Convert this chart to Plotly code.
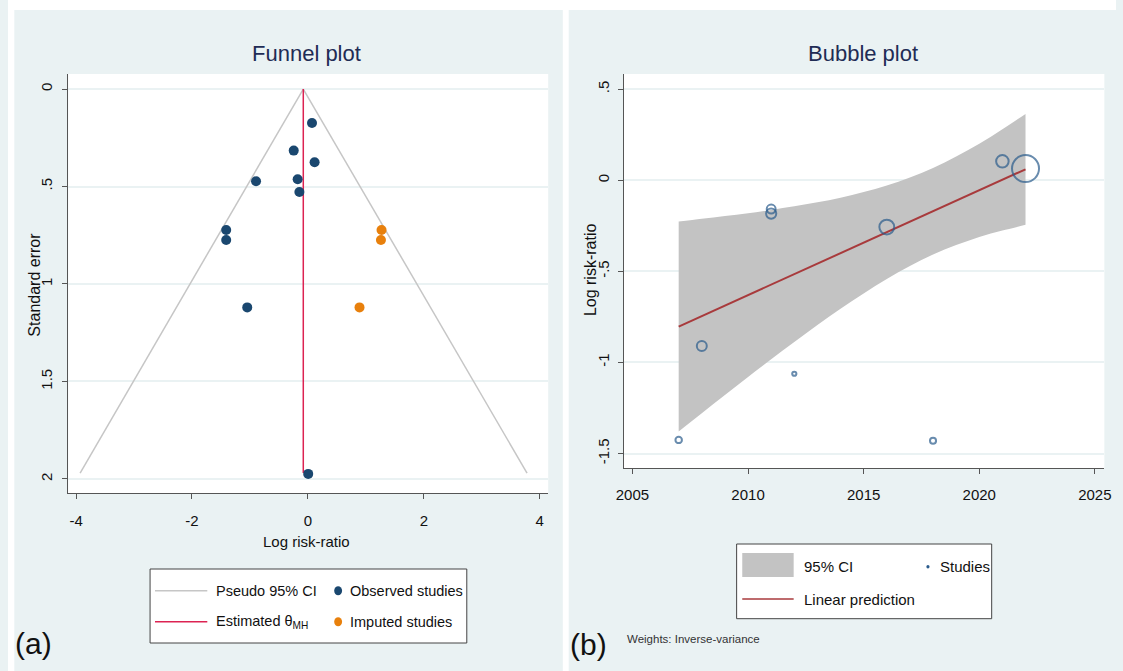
import math
import plotly.graph_objects as go

W, H = 1123, 671

# ---------------- Funnel plot data ----------------
obs_logrr = [0.07, -0.245, 0.115, -0.895, -0.177, -0.147, -1.41, -1.41, -1.047, 0.005]
obs_se = [0.174, 0.316, 0.376, 0.473, 0.463, 0.528, 0.723, 0.774, 1.12, 1.974]
imp_logrr = [1.27, 1.26, 0.89]
imp_se = [0.723, 0.774, 1.12]
theta_mh = -0.08
pseudo_ci_left = [-0.08, -3.93]
pseudo_ci_right = [-0.08, 3.78]
pseudo_ci_se = [0.0, 1.97]
funnel_xticks = [-4, -2, 0, 2, 4]
funnel_xticktext = ["-4", "-2", "0", "2", "4"]
funnel_yticks = [0, 0.5, 1, 1.5, 2]
funnel_yticktext = ["0", ".5", "1", "1.5", "2"]

# ---------------- Bubble plot data ----------------
study_year = [2007, 2008, 2011, 2011, 2012, 2016, 2018, 2021, 2022]
study_logrr = [-1.425, -0.91, -0.158, -0.183, -1.062, -0.257, -1.43, 0.104, 0.064]
study_weight = [1.9, 4.5, 3.6, 4.7, 0.8, 10.0, 1.67, 7.1, 33.0]
pred_year = [2007, 2022]
pred_logrr = [-0.803, 0.06]
ci_year = [2007, 2008, 2009, 2010, 2011, 2012, 2013, 2014, 2015, 2016, 2017, 2018, 2019, 2020, 2021, 2022]
ci_upper = [-0.227, -0.212, -0.197, -0.181, -0.163, -0.143, -0.121, -0.096, -0.065, -0.029, 0.015, 0.067, 0.130, 0.200, 0.280, 0.364]
ci_lower = [-1.379, -1.279, -1.179, -1.080, -0.983, -0.888, -0.795, -0.705, -0.621, -0.542, -0.471, -0.408, -0.356, -0.311, -0.276, -0.245]
bubble_xticks = [2005, 2010, 2015, 2020, 2025]
bubble_yticks = [0.5, 0, -0.5, -1, -1.5]
bubble_yticktext = [".5", "0", "-.5", "-1", "-1.5"]

FONT = "Liberation Sans, Arial, sans-serif"
NAVY = "#1a476f"
ORANGE = "#e8800c"
RED = "#dc2352"
BG = "#eaf2f3"
TITLE_C = "#1f2c55"
BUBBLE_C = "#2a5b8c"


def px(x):
    return x / W


def py(y):
    return 1 - y / H


fig = go.Figure()

# Funnel
fig.add_trace(go.Scatter(x=pseudo_ci_left, y=pseudo_ci_se, mode="lines",
                         line=dict(color="#c6c6c6", width=1.5), xaxis="x", yaxis="y"))
fig.add_trace(go.Scatter(x=pseudo_ci_right, y=pseudo_ci_se, mode="lines",
                         line=dict(color="#c6c6c6", width=1.5), xaxis="x", yaxis="y"))
fig.add_trace(go.Scatter(x=[theta_mh, theta_mh], y=pseudo_ci_se, mode="lines",
                         line=dict(color=RED, width=1.5), xaxis="x", yaxis="y"))
fig.add_trace(go.Scatter(x=obs_logrr, y=obs_se, mode="markers",
                         marker=dict(color=NAVY, size=10), xaxis="x", yaxis="y"))
fig.add_trace(go.Scatter(x=imp_logrr, y=imp_se, mode="markers",
                         marker=dict(color=ORANGE, size=10), xaxis="x", yaxis="y"))

# Bubble
fig.add_trace(go.Scatter(x=ci_year, y=ci_upper, mode="lines", line=dict(width=0, shape="spline"),
                         xaxis="x2", yaxis="y2"))
fig.add_trace(go.Scatter(x=ci_year, y=ci_lower, mode="lines", line=dict(width=0, shape="spline"),
                         fill="tonexty", fillcolor="#c3c3c3", xaxis="x2", yaxis="y2"))
fig.add_trace(go.Scatter(x=pred_year, y=pred_logrr, mode="lines",
                         line=dict(color="#a83a3c", width=2), xaxis="x2", yaxis="y2"))
fig.add_trace(go.Scatter(x=study_year, y=study_logrr, mode="markers",
                         marker=dict(symbol="circle-open", color=BUBBLE_C,
                                     size=[4.7 * math.sqrt(w) for w in study_weight],
                                     line=dict(width=2)),
                         xaxis="x2", yaxis="y2"))

axis_common = dict(showline=True, linecolor="#555", linewidth=1, ticks="outside", ticklen=5,
                   tickcolor="#555", tickfont=dict(family=FONT, size=15, color="#111"),
                   zeroline=False, fixedrange=True)

fig.update_layout(
    width=W, height=H, margin=dict(l=0, r=0, t=0, b=0),
    paper_bgcolor=BG, plot_bgcolor="white", showlegend=False,
    xaxis=dict(domain=[px(61), px(547.5)], range=[-4.136, 4.145], anchor="y",
               tickvals=funnel_xticks, ticktext=funnel_xticktext, showgrid=False,
               ticklabelstandoff=9, **axis_common),
    yaxis=dict(domain=[py(493), py(74)], range=[2.072, -0.077], anchor="x",
               tickvals=funnel_yticks, ticktext=funnel_yticktext, tickangle=-90,
               showgrid=True, gridcolor=BG, gridwidth=1.5, ticklabelstandoff=4, **axis_common),
    xaxis2=dict(domain=[px(623.9), px(1111.2)], range=[2004.616, 2025.41], anchor="y2",
                tickvals=bubble_xticks, ticktext=[str(v) for v in bubble_xticks], showgrid=False,
                ticklabelstandoff=8, **axis_common),
    yaxis2=dict(domain=[py(468.3), py(74)], range=[-1.581, 0.583], anchor="x2",
                tickvals=bubble_yticks, ticktext=bubble_yticktext, tickangle=-90,
                showgrid=True, gridcolor=BG, gridwidth=1.5, ticklabelstandoff=3, **axis_common),
)

shapes = []
# white strips around the two panels
for x0, y0, x1, y1 in [(0, 0, W, 10), (0, 0, 6.4, H), (562.3, 0, 568.3, H)]:
    shapes.append(dict(type="rect", xref="paper", yref="paper", x0=px(x0), x1=px(x1),
                       y0=py(y1), y1=py(y0), fillcolor="white", line=dict(width=0), layer="below"))
# legend boxes
for x0, y0, x1, y1 in [(144, 569, 465, 643), (738.5, 544, 997, 618.7)]:
    shapes.append(dict(type="rect", xref="paper", yref="paper", x0=px(x0), x1=px(x1),
                       y0=py(y1), y1=py(y0), fillcolor="white", line=dict(color="#444", width=1)))
# legend keys (left)
shapes.append(dict(type="line", xref="paper", yref="paper", x0=px(149), x1=px(202),
                   y0=py(590.7), y1=py(590.7), line=dict(color="#c6c6c6", width=1.5)))
shapes.append(dict(type="line", xref="paper", yref="paper", x0=px(149), x1=px(202),
                   y0=py(621.7), y1=py(621.7), line=dict(color=RED, width=1.5)))
for cy, col in [(590.7, NAVY), (621.7, ORANGE)]:
    shapes.append(dict(type="circle", xref="paper", yref="paper", x0=px(330.6), x1=px(338.6),
                       y0=py(cy + 4.5), y1=py(cy - 4.5), fillcolor=col, line=dict(width=0)))
# legend keys (right)
shapes.append(dict(type="rect", xref="paper", yref="paper", x0=px(744.2), x1=px(796.3),
                   y0=py(577), y1=py(553), fillcolor="#c3c3c3", line=dict(width=0)))
shapes.append(dict(type="line", xref="paper", yref="paper", x0=px(744.2), x1=px(796.3),
                   y0=py(599), y1=py(599), line=dict(color="#a83a3c", width=1.5)))
shapes.append(dict(type="circle", xref="paper", yref="paper", x0=px(930.8), x1=px(934),
                   y0=py(568.5), y1=py(564.9), fillcolor=BUBBLE_C, line=dict(width=0)))

fig.update_layout(shapes=shapes)

ann = []


def text(x, y, s, size, color="#111", xanchor="left", angle=0):
    ann.append(dict(x=px(x), y=py(y), xref="paper", yref="paper", text=s, showarrow=False,
                    xanchor=xanchor, yanchor="middle", textangle=angle,
                    font=dict(family=FONT, size=size, color=color)))


text(303, 53, "Funnel plot", 22, TITLE_C, "center")
text(867, 53, "Bubble plot", 22, TITLE_C, "center")
text(303, 541, "Log risk-ratio", 15, "#111", "center")
text(27, 285, "Standard error", 16, "#111", "center", -90)
text(590, 270, "Log risk-ratio", 16, "#111", "center", -90)
text(209, 590.7, "Pseudo 95% CI", 14.5)
text(345, 590.7, "Observed studies", 14.5)
text(209, 621.7, "Estimated θ<sub>MH</sub>", 14.5)
text(345, 621.7, "Imputed studies", 14.5)
text(805, 566.7, "95% CI", 15)
text(942.4, 566.7, "Studies", 15)
text(805, 599, "Linear prediction", 15)
text(625.7, 639, "Weights: Inverse-variance", 11.5, "#333")
text(5, 643, "(a)", 30, "#111", "left")
text(568, 644, "(b)", 30, "#111", "left")

fig.update_layout(annotations=ann)

fig.write_html("out.html", config={"displayModeBar": False})

# remove the default page margin so the figure sits at the window origin
with open("out.html", "r", encoding="utf-8") as f:
    html = f.read()
html = html.replace("<body>", '<body style="margin:0;padding:0;overflow:hidden">', 1)
with open("out.html", "w", encoding="utf-8") as f:
    f.write(html)
